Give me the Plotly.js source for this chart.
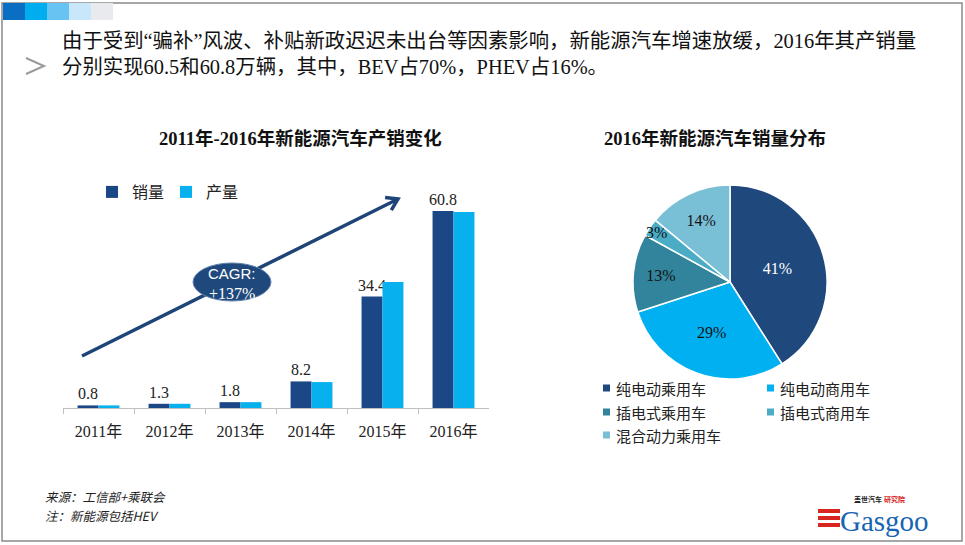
<!DOCTYPE html>
<html>
<head>
<meta charset="utf-8">
<script src="https://cdn.plot.ly/plotly-3.0.1.min.js"></script>
<style>html,body{margin:0;padding:0;background:#fff;}#chart{width:965px;height:545px;}</style>
</head>
<body>
<div id="chart"></div>
<script>
// ---- data ----
const years = ["2011年", "2012年", "2013年", "2014年", "2015年", "2016年"];
const salesValues = [0.8, 1.3, 1.8, 8.2, 34.4, 60.8];
const productionValues = [0.8, 1.3, 1.8, 8.0, 38.9, 60.5];
const pieLabels = ["纯电动乘用车", "纯电动商用车", "插电式乘用车", "插电式商用车", "混合动力乘用车"];
const pieValues = [41, 29, 13, 3, 14];
const pieColors = ["#1f497d", "#00b0f0", "#31849b", "#4bacc6", "#79bfd6"];
const headerLines = [
  "由于受到“骗补”风波、补贴新政迟迟未出台等因素影响，新能源汽车增速放缓，2016年其产销量",
  "分别实现60.5和60.8万辆，其中，BEV占70%，PHEV占16%。"
];
const barTitle = "2011年-2016年新能源汽车产销变化";
const pieTitle = "2016年新能源汽车销量分布";
const notes = ["来源：工信部+乘联会", "注：新能源包括HEV"];

// ---- helpers: pixel -> paper ----
const W = 965, H = 545;
const X = px => px / W;
const Y = py => 1 - py / H;
const MIX = "Liberation Serif, 'Noto Sans CJK SC', serif";
const CJK = "'Noto Sans CJK SC', sans-serif";

const traces = [
  {
    type: "bar", name: "销量", x: years, y: salesValues,
    marker: { color: "#1b4786" },
    text: salesValues.map(v => v.toFixed(1)), textposition: "outside",
    textfont: { family: MIX, size: 16, color: "#222" },
    cliponaxis: false, constraintext: "none", hoverinfo: "x+y"
  },
  {
    type: "bar", name: "产量", x: years, y: productionValues,
    marker: { color: "#08b0ee" }, hoverinfo: "x+y"
  },
  {
    type: "pie", labels: pieLabels, values: pieValues, sort: false,
    direction: "clockwise", rotation: 0,
    marker: { colors: pieColors, line: { color: "#ffffff", width: 1.5 } },
    textinfo: "percent", textposition: "inside", insidetextorientation: "horizontal",
    insidetextfont: { family: MIX, size: 16, color: ["#ffffff", "#111", "#111", "#111", "#111"] },
    domain: { x: [X(633), X(827)], y: [Y(380), Y(184)] },
    showlegend: false, hoverinfo: "label+percent"
  }
];

const shapes = [];
// frame
shapes.push({ type: "rect", xref: "paper", yref: "paper", x0: X(2), x1: X(962), y0: Y(541), y1: Y(3),
  line: { color: "#8a8a8a", width: 1.5 }, fillcolor: "rgba(0,0,0,0)" });
// header squares
["#0a6fc2", "#00aeef", "#66c3f2", "#c9e7fb", "#e9eaee"].forEach((c, i) => {
  shapes.push({ type: "rect", xref: "paper", yref: "paper", x0: X(3 + 22 * i), x1: X(25 + 22 * i),
    y0: Y(20), y1: Y(3), line: { width: 0 }, fillcolor: c });
});
// ">" chevron
shapes.push({ type: "path", xref: "paper", yref: "paper",
  path: `M ${X(26)} ${Y(58)} L ${X(44)} ${Y(66)} L ${X(26)} ${Y(74)}`,
  line: { color: "#9a9a9a", width: 2 } });
// growth arrow
shapes.push({ type: "line", xref: "paper", yref: "paper", x0: X(82), y0: Y(356), x1: X(396), y1: Y(200),
  line: { color: "#1f4478", width: 3.5 } });
shapes.push({ type: "path", xref: "paper", yref: "paper",
  path: `M ${X(391.3)} ${Y(210.2)} L ${X(398)} ${Y(199)} L ${X(385.1)} ${Y(197.6)}`,
  line: { color: "#1f4478", width: 3.5 } });
// CAGR ellipse
shapes.push({ type: "circle", xref: "paper", yref: "paper", x0: X(193), x1: X(271), y0: Y(301), y1: Y(263),
  fillcolor: "#1f497d", line: { color: "#6384ad", width: 1 } });
// pie legend markers
const legPos = [[607, 388], [771, 388], [607, 412], [771, 412], [607, 435]];
legPos.forEach((p, i) => {
  shapes.push({ type: "rect", xref: "paper", yref: "paper", x0: X(p[0] - 4), x1: X(p[0] + 3),
    y0: Y(p[1] + 3.5), y1: Y(p[1] - 3.5), line: { width: 0 }, fillcolor: pieColors[i] });
});
// logo stripes
[511, 518, 525].forEach(py => {
  shapes.push({ type: "rect", xref: "paper", yref: "paper", x0: X(818), x1: X(840), y0: Y(py + 2), y1: Y(py - 2),
    line: { width: 0 }, fillcolor: "#d7261e" });
});

const ann = [];
const txt = (text, px, py, font, xanchor) => ann.push({ text, xref: "paper", yref: "paper", x: X(px), y: Y(py),
  xanchor: xanchor || "center", yanchor: "middle", showarrow: false, font, align: "left" });
txt(headerLines[0], 60, 41, { family: MIX, size: 20.4, color: "#111" }, "left");
txt(headerLines[1], 60, 67, { family: MIX, size: 20.4, color: "#111" }, "left");
txt(barTitle, 300, 138, { family: MIX, size: 18.5, color: "#111", weight: "bold" });
txt(pieTitle, 715, 138, { family: MIX, size: 18.5, color: "#111", weight: "bold" });
txt("CAGR:", 232, 273, { family: "Liberation Sans, Arial, sans-serif", size: 15, color: "#ffffff" });
txt("+137%", 232, 293, { family: "Liberation Serif, serif", size: 16, color: "#ffffff" });
legPos.forEach((p, i) => txt(pieLabels[i], p[0] + 7, p[1], { family: CJK, size: 15, color: "#222" }, "left"));
txt(notes[0], 43, 496, { family: CJK, size: 12.5, color: "#222", style: "italic" }, "left");
txt(notes[1], 43, 515, { family: CJK, size: 12.5, color: "#222", style: "italic" }, "left");
txt("盖世汽车", 868, 499, { family: CJK, size: 7, color: "#222", weight: "bold" });
txt("研究院", 894, 499, { family: CJK, size: 7, color: "#d7261e", weight: "bold" });
txt("Gasgoo", 884, 521, { family: "Liberation Serif, serif", size: 29, color: "#1764b3" });

const layout = {
  width: W, height: H, margin: { l: 0, r: 0, t: 0, b: 0 },
  paper_bgcolor: "#ffffff", plot_bgcolor: "rgba(0,0,0,0)",
  barmode: "group", bargap: 0.41, bargroupgap: 0,
  uniformtext: { mode: "show", minsize: 16 },
  xaxis: {
    domain: [X(63), X(489)], type: "category", range: [-0.5, 5.5], fixedrange: true,
    showline: true, linecolor: "#bfbfbf", linewidth: 1, ticks: "outside", tickson: "boundaries",
    ticklen: 5, tickcolor: "#bfbfbf", showgrid: false, zeroline: false,
    ticklabelstandoff: 9, tickfont: { family: MIX, size: 16, color: "#222" }
  },
  yaxis: { domain: [Y(408), Y(181.2)], range: [0, 70], visible: false, fixedrange: true },
  showlegend: true,
  legend: {
    orientation: "h", x: X(92), y: Y(175), xanchor: "left", yanchor: "top",
    entrywidth: 29, font: { family: CJK, size: 16, color: "#222" }, bgcolor: "rgba(0,0,0,0)"
  },
  shapes, annotations: ann
};

Plotly.newPlot("chart", traces, layout, { displayModeBar: false, staticPlot: true });
</script>
</body>
</html>
